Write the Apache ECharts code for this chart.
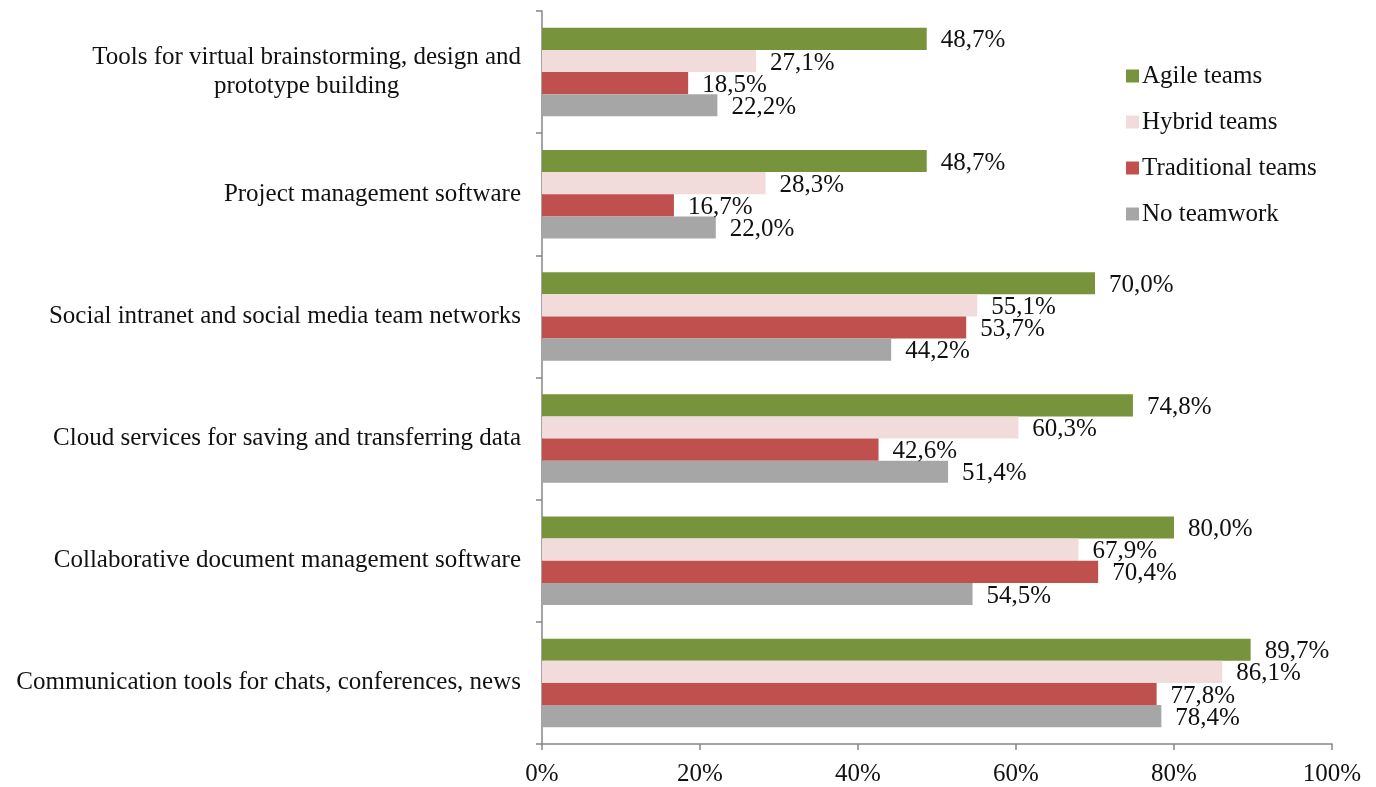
<!DOCTYPE html>
<html>
<head>
<meta charset="utf-8">
<script src="https://cdn.jsdelivr.net/npm/echarts@6/dist/echarts.min.js"></script>
<style>html,body{margin:0;padding:0;background:#fff}#c{width:1376px;height:787px}</style>
</head>
<body>
<div id="c"></div>
<script>
const categories = [
  'Tools for virtual brainstorming, design and\nprototype building',
  'Project management software',
  'Social intranet and social media team networks',
  'Cloud services for saving and transferring data',
  'Collaborative document management software',
  'Communication tools for chats, conferences, news'
];
const seriesNames = ['Agile teams', 'Hybrid teams', 'Traditional teams', 'No teamwork'];
const agile = [48.7, 48.7, 70.0, 74.8, 80.0, 89.7];
const hybrid = [27.1, 28.3, 55.1, 60.3, 67.9, 86.1];
const traditional = [18.5, 16.7, 53.7, 42.6, 70.4, 77.8];
const noTeam = [22.2, 22.0, 44.2, 51.4, 54.5, 78.4];
const xTicks = [0, 20, 40, 60, 80, 100];

const colors = ['#77933C', '#F2DCDB', '#C0504D', '#A6A6A6'];
const FONT = '"Liberation Serif", "Times New Roman", serif';
const FS = 25;
const values = [agile, hybrid, traditional, noTeam];

const chart = echarts.init(document.getElementById('c'), null, {renderer: 'canvas'});
chart.setOption({
  animation: false,
  backgroundColor: '#fff',
  textStyle: {fontFamily: FONT},
  grid: {left: 542, right: 44, top: 11, bottom: 42, containLabel: false},
  legend: {
    orient: 'vertical',
    left: 1121,
    top: 58,
    itemWidth: 13,
    itemHeight: 13,
    itemGap: 20,
    icon: 'rect',
    data: seriesNames,
    textStyle: {fontFamily: FONT, fontSize: FS, color: '#111', lineHeight: 26, padding: [0, 0, 0, -2]}
  },
  xAxis: {
    type: 'value',
    min: xTicks[0],
    max: xTicks[xTicks.length - 1],
    interval: 20,
    splitLine: {show: false},
    axisLine: {show: true, lineStyle: {color: '#868686', width: 1.5}},
    axisTick: {show: true, length: 6, lineStyle: {color: '#868686', width: 1.5}},
    axisLabel: {fontFamily: FONT, fontSize: FS, color: '#111', margin: 18, formatter: v => v + '%'}
  },
  yAxis: {
    type: 'category',
    inverse: true,
    data: categories,
    axisLine: {show: true, lineStyle: {color: '#868686', width: 1.5}},
    axisTick: {show: true, length: 6, lineStyle: {color: '#868686', width: 1.5}},
    axisLabel: {
      fontFamily: FONT, fontSize: FS, color: '#111', margin: 21, lineHeight: 29,
      formatter: v => '{c|' + v + '}',
      rich: {c: {fontFamily: FONT, fontSize: FS, color: '#111', lineHeight: 29, align: 'center'}}
    }
  },
  series: seriesNames.map((name, i) => ({
    name: name,
    type: 'bar',
    data: values[i],
    barGap: '0%',
    barCategoryGap: '27.5%',
    itemStyle: {color: colors[i]},
    label: {
      show: true,
      position: 'right',
      distance: 14,
      offset: [0, 2],
      fontFamily: FONT,
      fontSize: FS,
      color: '#111',
      formatter: p => p.value.toFixed(1).replace('.', ',') + '%'
    }
  }))
});
</script>
</body>
</html>
